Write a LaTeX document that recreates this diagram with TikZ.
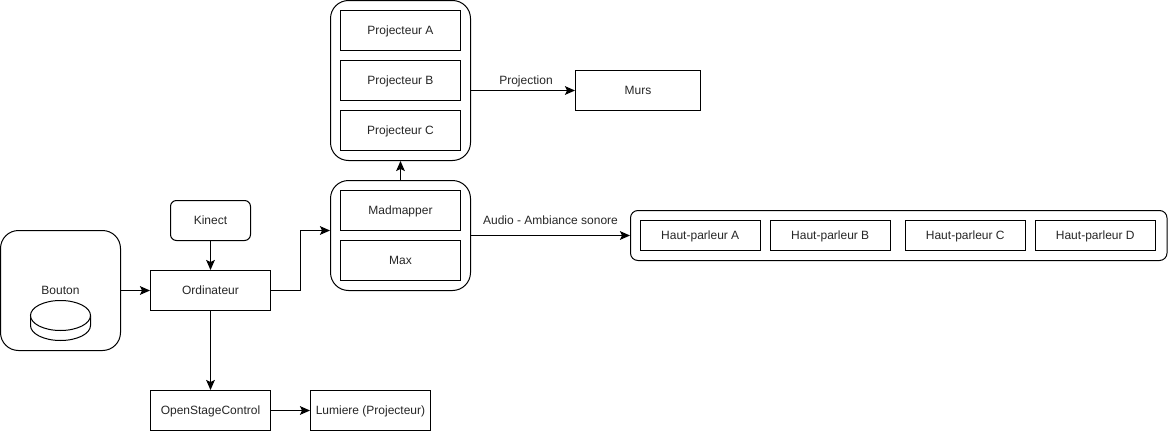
\documentclass[tikz,border=0pt]{standalone}
\usepackage{fontspec}
\setmainfont{Liberation Sans}
\usetikzlibrary{arrows.meta}
\tikzset{
  x=0.75pt,y=-0.75pt,
  every node/.style={font=\fontsize{9}{11}\selectfont,text=black!85},
  box/.style={draw=black,line width=0.75pt,inner sep=0pt,fill=white,text height=7pt,text depth=0.5pt},
  rbox/.style={box,rounded corners=#1},
  conn/.style={draw=black,line width=0.75pt,-{Stealth[length=7.5pt,width=6.5pt,inset=1.5pt]}},
  lab/.style={inner sep=0pt,text height=7pt,text depth=0.5pt}
}
\newcommand{\bx}[7][box]{%
  \node[#1,minimum width=#6*0.75pt,minimum height=#7*0.75pt] (#2) at (#4,#5) {#3};}
\begin{document}
\begin{tikzpicture}
\useasboundingbox (0,0) rectangle (1168,432);
% containers
\bx[rbox=13.5pt]{bouton}{}{60.5}{290.5}{120}{120}
\bx[rbox=13.5pt]{gproj}{}{400.5}{80.5}{140}{160}
\bx[rbox=13.5pt]{gmad}{}{400.5}{235.5}{140}{110}
\bx[rbox=5.6pt]{ghp}{}{898.75}{235.5}{536.5}{50}
% cylinder
\draw[line width=0.75pt,fill=white] (30.5,315.5) -- (30.5,325.5) arc[start angle=180,end angle=0,x radius=30,y radius=15] -- (90.5,315.5);
\draw[line width=0.75pt,fill=white] (60.5,315.5) ellipse[x radius=30,y radius=15];
\node[lab] (boutonlab) at (60.5,290.5) {Bouton};
% boxes
\bx[rbox=4.5pt]{kinect}{Kinect}{210.5}{220.5}{80}{40}
\bx{ordi}{Ordinateur}{210.5}{290.5}{120}{40}
\bx{osc}{OpenStageControl}{210.5}{410.5}{120}{40}
\bx{lum}{Lumiere (Projecteur)}{370.5}{410.5}{120}{40}
\bx{pa}{Projecteur A}{400.5}{30.5}{120}{40}
\bx{pb}{Projecteur B}{400.5}{80.5}{120}{40}
\bx{pc}{Projecteur C}{400.5}{130.5}{120}{40}
\bx{murs}{Murs}{638}{90.5}{125}{40}
\bx{mad}{Madmapper}{400.5}{210.5}{120}{40}
\bx{max}{Max}{400.5}{260.5}{120}{40}
\bx{ha}{Haut-parleur A}{700.25}{235.5}{119.5}{30}
\bx{hb}{Haut-parleur B}{830.25}{235.5}{119.5}{30}
\bx{hc}{Haut-parleur C}{965.25}{235.5}{119.5}{30}
\bx{hd}{Haut-parleur D}{1095.25}{235.5}{119.5}{30}
% connectors
\draw[conn] (bouton.east) -- (ordi.west);
\draw[conn] (kinect.south) -- (ordi.north);
\draw[conn] (ordi.south) -- (osc.north);
\draw[conn] (osc.east) -- (lum.west);
\draw[conn] (ordi.east) -- (300.5,290.5) -- (300.5,230.5) -- (gmad.west |- 300.5,230.5);
\draw[conn] (gmad.north) -- (gproj.south);
\draw[conn] (gproj.east |- murs.west) -- (murs.west);
\draw[conn] (gmad.east) -- (ghp.west);
% labels
\node[lab] (lproj) at (526,80.5) {Projection};
\node[lab] (laudio) at (550.5,220.5) {Audio - Ambiance sonore};
\end{tikzpicture}
\end{document}
